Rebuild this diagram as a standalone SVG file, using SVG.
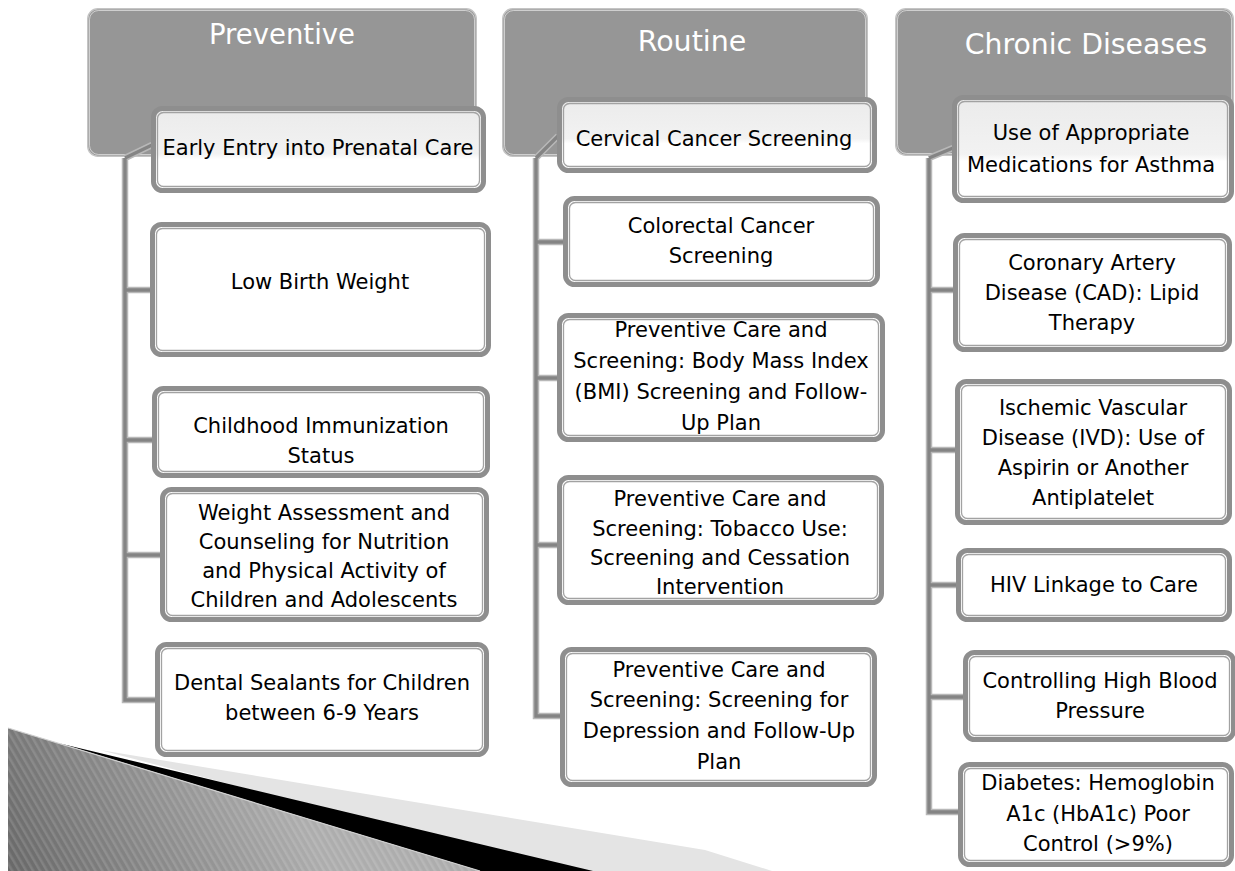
<svg xmlns="http://www.w3.org/2000/svg" width="1235" height="871" viewBox="0 0 1235 871">
<defs>
<style>
.hdr{fill:#969696;stroke:#c4c4c4;stroke-width:1.5}
.hdrin{fill:none;stroke:#ffffff;stroke-opacity:.55;stroke-width:1}
.box{fill:#ffffff;stroke:#8e8e8e;stroke-width:5}
.gloss{fill:url(#gl);stroke:#8e8e8e;stroke-width:5}
.boxin{fill:none;stroke:#a2a2a2;stroke-width:1.3}
.t{font-family:"DejaVu Sans",Verdana,sans-serif;font-size:21px;fill:#000;text-anchor:middle}
.ht{font-family:"DejaVu Sans",Verdana,sans-serif;fill:#fff;text-anchor:middle}
.c1{fill:none;stroke:#b8b8b8;stroke-width:6.5;stroke-linejoin:miter}
.c2{fill:none;stroke:#848484;stroke-width:3.4;stroke-linejoin:miter}
</style>
<linearGradient id="gl" x1="0" y1="0" x2="0" y2="1">
<stop offset="0" stop-color="#ebebeb"/>
<stop offset="0.55" stop-color="#f2f2f2"/>
<stop offset="0.62" stop-color="#ffffff"/>
<stop offset="1" stop-color="#ffffff"/>
</linearGradient>
<linearGradient id="body" gradientUnits="userSpaceOnUse" x1="8" y1="871" x2="260" y2="740">
<stop offset="0" stop-color="#686868"/>
<stop offset="1" stop-color="#adadad"/>
</linearGradient>
<pattern id="stripes" patternUnits="userSpaceOnUse" width="6" height="6" patternTransform="rotate(-30)">
<rect x="0" y="0" width="2.5" height="6" fill="#ffffff" fill-opacity="0.13"/>
</pattern>
</defs>

<g id="arrow">
<polygon points="100,750 705,850 772,871 560,871" fill="#e4e4e4"/>
<polygon points="60,743.5 593,871 480,871" fill="#000000"/>
<polygon points="8,728 480,871 8,871" fill="url(#body)"/>
<polygon points="8,728 480,871 8,871" fill="url(#stripes)"/>
<line x1="8" y1="728" x2="480" y2="871" stroke="#cfcfcf" stroke-width="1.2"/>
</g>

<g id="header-preventive">
<rect class="hdr" x="87.75" y="8.75" width="388.5" height="147.5" rx="10"/>
<rect class="hdrin" x="89.5" y="10.5" width="385" height="144" rx="9"/>
<text class="ht" x="282" y="44" font-size="27.5">Preventive</text>
</g>
<g id="header-routine">
<rect class="hdr" x="502.75" y="8.75" width="364.5" height="147.5" rx="10"/>
<rect class="hdrin" x="504.5" y="10.5" width="361" height="144" rx="9"/>
<text class="ht" x="692" y="51" font-size="28.5">Routine</text>
</g>
<g id="header-chronic">
<rect class="hdr" x="895.75" y="8.75" width="337.5" height="146.5" rx="10"/>
<rect class="hdrin" x="897.5" y="10.5" width="334" height="143" rx="9"/>
<text class="ht" x="1086" y="54" font-size="28.3">Chronic Diseases</text>
</g>

<g id="connectors">
<path class="c1" d="M125 158 L152 145 M125 158 V700 H157 M125 290 H152 M125 440 H154 M125 555 H162"/>
<path class="c2" d="M125 158 L152 145 M125 158 V700 H157 M125 290 H152 M125 440 H154 M125 555 H162"/>
<path class="c1" d="M536 158 L558 136 M536 158 V716 H562 M536 242 H565 M536 378 H559 M536 545 H559"/>
<path class="c2" d="M536 158 L558 136 M536 158 V716 H562 M536 242 H565 M536 378 H559 M536 545 H559"/>
<path class="c1" d="M929 158 L953 148 M929 158 V812 H960 M929 290 H955 M929 450 H957 M929 585 H958 M929 697 H965"/>
<path class="c2" d="M929 158 L953 148 M929 158 V812 H960 M929 290 H955 M929 450 H957 M929 585 H958 M929 697 H965"/>
</g>

<g id="p1">
<rect class="gloss" x="153.5" y="108.5" width="330" height="82" rx="9"/>
<rect class="boxin" x="157.5" y="112.5" width="322" height="74" rx="6"/>
<text class="t" x="318" y="155">Early Entry into Prenatal Care</text>
</g>
<g id="p2">
<rect class="box" x="152.5" y="224.5" width="336" height="130" rx="9"/>
<rect class="boxin" x="156.5" y="228.5" width="328" height="122" rx="6"/>
<text class="t" x="320" y="289">Low Birth Weight</text>
</g>
<g id="p3">
<rect class="box" x="154.5" y="388.5" width="333" height="87" rx="9"/>
<rect class="boxin" x="158.5" y="392.5" width="325" height="79" rx="6"/>
<text class="t" x="321" y="433">Childhood Immunization</text>
<text class="t" x="321" y="463">Status</text>
</g>
<g id="p4">
<rect class="box" x="162.5" y="489.5" width="324" height="130" rx="9"/>
<rect class="boxin" x="166.5" y="493.5" width="316" height="122" rx="6"/>
<text class="t" x="324" y="520">Weight Assessment and</text>
<text class="t" x="324" y="549">Counseling for Nutrition</text>
<text class="t" x="324" y="578">and Physical Activity of</text>
<text class="t" x="324" y="607">Children and Adolescents</text>
</g>
<g id="p5">
<rect class="box" x="157.5" y="644.5" width="329" height="110" rx="9"/>
<rect class="boxin" x="161.5" y="648.5" width="321" height="102" rx="6"/>
<text class="t" x="322" y="690">Dental Sealants for Children</text>
<text class="t" x="322" y="720">between 6-9 Years</text>
</g>

<g id="r1">
<rect class="gloss" x="559.5" y="99.5" width="315" height="71" rx="9"/>
<rect class="boxin" x="563.5" y="103.5" width="307" height="63" rx="6"/>
<text class="t" x="714" y="146">Cervical Cancer Screening</text>
</g>
<g id="r2">
<rect class="box" x="565.5" y="198.5" width="312" height="86" rx="9"/>
<rect class="boxin" x="569.5" y="202.5" width="304" height="78" rx="6"/>
<text class="t" x="721" y="233">Colorectal Cancer</text>
<text class="t" x="721" y="263">Screening</text>
</g>
<g id="r3">
<rect class="box" x="559.5" y="315.5" width="323" height="124" rx="9"/>
<rect class="boxin" x="563.5" y="319.5" width="315" height="116" rx="6"/>
<text class="t" x="721" y="337">Preventive Care and</text>
<text class="t" x="721" y="368">Screening: Body Mass Index</text>
<text class="t" x="721" y="399">(BMI) Screening and Follow-</text>
<text class="t" x="721" y="430">Up Plan</text>
</g>
<g id="r4">
<rect class="box" x="559.5" y="477.5" width="322" height="125" rx="9"/>
<rect class="boxin" x="563.5" y="481.5" width="314" height="117" rx="6"/>
<text class="t" x="720" y="506">Preventive Care and</text>
<text class="t" x="720" y="536">Screening: Tobacco Use:</text>
<text class="t" x="720" y="565">Screening and Cessation</text>
<text class="t" x="720" y="594">Intervention</text>
</g>
<g id="r5">
<rect class="box" x="562.5" y="649.5" width="312" height="135" rx="9"/>
<rect class="boxin" x="566.5" y="653.5" width="304" height="127" rx="6"/>
<text class="t" x="719" y="677">Preventive Care and</text>
<text class="t" x="719" y="707">Screening: Screening for</text>
<text class="t" x="719" y="738">Depression and Follow-Up</text>
<text class="t" x="719" y="769">Plan</text>
</g>

<g id="c1">
<rect class="gloss" x="954.5" y="97.5" width="277" height="103" rx="9"/>
<rect class="boxin" x="958.5" y="101.5" width="269" height="95" rx="6"/>
<text class="t" x="1091" y="140">Use of Appropriate</text>
<text class="t" x="1091" y="172">Medications for Asthma</text>
</g>
<g id="c2">
<rect class="box" x="955.5" y="235.5" width="274" height="114" rx="9"/>
<rect class="boxin" x="959.5" y="239.5" width="266" height="106" rx="6"/>
<text class="t" x="1092" y="270">Coronary Artery</text>
<text class="t" x="1092" y="300">Disease (CAD): Lipid</text>
<text class="t" x="1092" y="330">Therapy</text>
</g>
<g id="c3">
<rect class="box" x="957.5" y="381.5" width="272" height="141" rx="9"/>
<rect class="boxin" x="961.5" y="385.5" width="264" height="133" rx="6"/>
<text class="t" x="1093" y="415">Ischemic Vascular</text>
<text class="t" x="1093" y="445">Disease (IVD): Use of</text>
<text class="t" x="1093" y="475">Aspirin or Another</text>
<text class="t" x="1093" y="505">Antiplatelet</text>
</g>
<g id="c4">
<rect class="box" x="958.5" y="550.5" width="271" height="69" rx="9"/>
<rect class="boxin" x="962.5" y="554.5" width="263" height="61" rx="6"/>
<text class="t" x="1094" y="592">HIV Linkage to Care</text>
</g>
<g id="c5">
<rect class="box" x="965.5" y="652.5" width="268" height="87" rx="9"/>
<rect class="boxin" x="969.5" y="656.5" width="260" height="79" rx="6"/>
<text class="t" x="1100" y="688">Controlling High Blood</text>
<text class="t" x="1100" y="718">Pressure</text>
</g>
<g id="c6">
<rect class="box" x="960.5" y="764.5" width="271" height="100" rx="9"/>
<rect class="boxin" x="964.5" y="768.5" width="263" height="92" rx="6"/>
<text class="t" x="1098" y="790">Diabetes: Hemoglobin</text>
<text class="t" x="1098" y="821">A1c (HbA1c) Poor</text>
<text class="t" x="1098" y="851">Control (&gt;9%)</text>
</g>
</svg>
